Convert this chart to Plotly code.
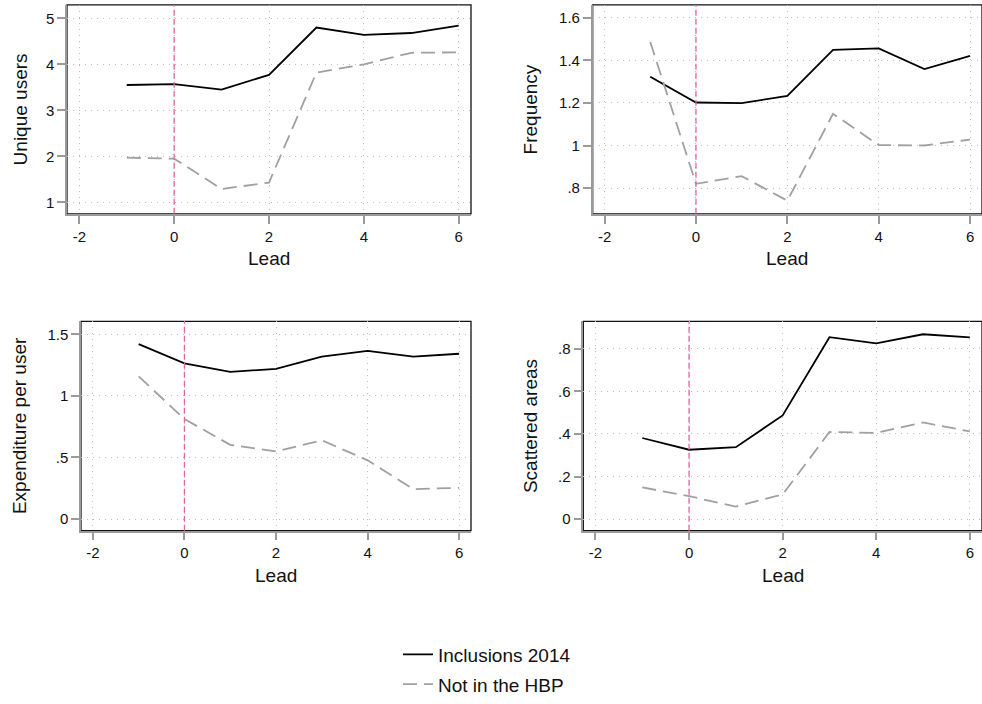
import plotly.graph_objects as go

# ---------------- data ----------------
lead = [-1, 0, 1, 2, 3, 4, 5, 6]

users_incl = [3.55, 3.57, 3.45, 3.77, 4.80, 4.64, 4.68, 4.84]
users_not = [1.97, 1.95, 1.29, 1.43, 3.82, 4.00, 4.25, 4.26]

freq_incl = [1.323, 1.202, 1.199, 1.233, 1.449, 1.456, 1.359, 1.421]
freq_not = [1.486, 0.820, 0.856, 0.741, 1.149, 1.002, 1.000, 1.028]

exp_incl = [1.42, 1.264, 1.195, 1.219, 1.318, 1.366, 1.318, 1.342]
exp_not = [1.158, 0.812, 0.603, 0.549, 0.640, 0.477, 0.243, 0.254]

scat_incl = [0.381, 0.326, 0.338, 0.487, 0.854, 0.825, 0.868, 0.853]
scat_not = [0.149, 0.108, 0.059, 0.116, 0.409, 0.405, 0.454, 0.412]

panel_titles = ["Unique users", "Frequency", "Expenditure per user", "Scattered areas"]
series_names = ["Inclusions 2014", "Not in the HBP"]
x_title = "Lead"

x_tickvals = [-2, 0, 2, 4, 6]
x_ticktext = ["-2", "0", "2", "4", "6"]

y_tickvals = [
    [1, 2, 3, 4, 5],
    [0.8, 1.0, 1.2, 1.4, 1.6],
    [0, 0.5, 1.0, 1.5],
    [0, 0.2, 0.4, 0.6, 0.8],
]
y_ticktext = [
    ["1", "2", "3", "4", "5"],
    [".8", "1", "1.2", "1.4", "1.6"],
    ["0", ".5", "1", "1.5"],
    ["0", ".2", ".4", ".6", ".8"],
]
y_ranges = [[0.75, 5.29], [0.679, 1.66], [-0.094, 1.604], [-0.054, 0.928]]
x_range = [-2.26, 6.26]

# ---------------- layout geometry ----------------
W, H = 982, 704
# pixel boxes (left, right, top, bottom)
boxes = [
    (67, 471, 5, 216),
    (592.7, 982, 5, 216),
    (81, 471, 324.7, 536),
    (583.3, 982, 324.7, 536),
]
ytitle_x = [20, 530, 19, 530]

FONT = "Liberation Sans, Arial, sans-serif"
BLACK = "#000000"
GREY = "#A0A0A0"
PINK = "#E5629F"

incl = [users_incl, freq_incl, exp_incl, scat_incl]
notin = [users_not, freq_not, exp_not, scat_not]

fig = go.Figure()
annotations = []
shapes = []

for i in range(4):
    l, r, t, b = boxes[i]
    xa = "x" if i == 0 else f"x{i+1}"
    ya = "y" if i == 0 else f"y{i+1}"
    fig.add_trace(go.Scatter(
        x=lead, y=incl[i], mode="lines", xaxis=xa, yaxis=ya,
        line=dict(color=BLACK, width=1.8), name=series_names[0],
        legendgroup="a", showlegend=(i == 0)))
    fig.add_trace(go.Scatter(
        x=lead, y=notin[i], mode="lines", xaxis=xa, yaxis=ya,
        line=dict(color=GREY, width=1.8, dash="14px,7px"), name=series_names[1],
        legendgroup="b", showlegend=(i == 0)))

    axis_common = dict(
        showgrid=True, gridcolor="#BDBDBD", griddash="1px,5px", gridwidth=1.2,
        zeroline=False, showline=True, linecolor="#9A9A9A", linewidth=1.5,
        ticks="outside", ticklen=8, tickcolor="#9A9A9A", tickwidth=1.5,
        tickfont=dict(family=FONT, size=15, color="#111"),
        automargin=False, mirror=False,
    )
    fig.layout[("xaxis" if i == 0 else f"xaxis{i+1}")] = dict(
        domain=[l / W, min(r / W, 1.0)], anchor=ya, range=x_range,
        tickvals=x_tickvals, ticktext=x_ticktext, **axis_common)
    fig.layout[("yaxis" if i == 0 else f"yaxis{i+1}")] = dict(
        domain=[1 - b / H, 1 - t / H], anchor=xa, range=y_ranges[i],
        tickvals=y_tickvals[i], ticktext=y_ticktext[i], **axis_common)

    # black plot-region border
    shapes.append(dict(type="rect", xref=f"{xa} domain", yref=f"{ya} domain",
                       x0=0, x1=1, y0=0, y1=1, line=dict(color="#111", width=1.3),
                       layer="below"))
    # vertical reference line at lead 0
    shapes.append(dict(type="line", xref=xa, yref=f"{ya} domain",
                       x0=0, x1=0, y0=0, y1=1,
                       line=dict(color=PINK, width=1.3, dash="6px,3px"), layer="above"))

    # axis titles
    annotations.append(dict(text=x_title, xref="paper", yref="paper",
                            x=((l + r) / 2) / W, y=1 - (b + 45) / H, showarrow=False,
                            font=dict(family=FONT, size=19, color="#111"),
                            xanchor="center", yanchor="middle"))
    annotations.append(dict(text=panel_titles[i], xref="paper", yref="paper",
                            x=ytitle_x[i] / W, y=1 - ((t + b) / 2) / H, showarrow=False,
                            textangle=-90, font=dict(family=FONT, size=19, color="#111"),
                            xanchor="center", yanchor="middle"))

fig.update_layout(
    width=W, height=H,
    margin=dict(l=0, r=0, t=0, b=0),
    paper_bgcolor="white", plot_bgcolor="white",
    font=dict(family=FONT, color="#111"),
    shapes=shapes, annotations=annotations,
    showlegend=True,
    legend=dict(x=398 / W, y=1 - 642 / H, xanchor="left", yanchor="top",
                font=dict(family=FONT, size=19, color="#111"),
                bgcolor="rgba(0,0,0,0)", tracegroupgap=2),
)

fig.write_html(
    "out.html",
    config={"displayModeBar": False},
    post_script="document.body.style.margin='0px';document.body.style.overflow='hidden';",
)
